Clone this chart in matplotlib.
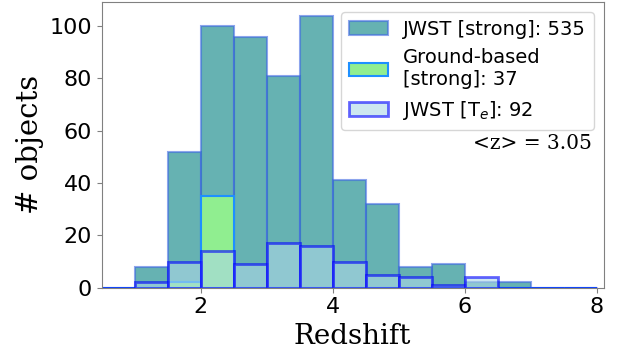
import numpy as np
import matplotlib
matplotlib.use("Agg")
import matplotlib.pyplot as plt

# Bin edges (redshift) and counts per bin
bin_edges = np.arange(0.5, 8.01, 0.5)
jwst_strong = [0, 8, 52, 100, 96, 81, 104, 41, 32, 8, 9, 2, 2, 0, 0]
ground_strong = [0, 0, 2, 35, 0, 0, 0, 0, 0, 0, 0, 0, 0, 0, 0]
jwst_te = [0, 2, 10, 14, 9, 17, 16, 10, 5, 4, 1, 4, 0, 0, 0]
mean_z = 3.05

centers = 0.5 * (bin_edges[:-1] + bin_edges[1:])

fig = plt.figure(figsize=(6.22, 3.51), dpi=100)
ax = fig.add_axes([0.1635, 0.1803, 0.807, 0.814])

ax.hist(centers, bins=bin_edges, weights=jwst_strong, facecolor="teal",
        edgecolor="royalblue", alpha=0.6, linewidth=1.5,
        label=f"JWST [strong]: {sum(jwst_strong)}")
ax.hist(centers, bins=bin_edges, weights=ground_strong, facecolor="lightgreen",
        edgecolor="dodgerblue", alpha=1.0, linewidth=1.5,
        label=f"Ground-based\n[strong]: {sum(ground_strong)}")
ax.hist(centers, bins=bin_edges, weights=jwst_te, facecolor="lightblue",
        edgecolor="blue", alpha=0.6, linewidth=2,
        label=f"JWST [T$_e$]: {sum(jwst_te)}")

ax.set_xlim(0.5, 8.1)
ax.set_ylim(0, 109.2)
ax.set_xticks([2, 4, 6, 8])
ax.set_yticks([0, 20, 40, 60, 80, 100])
ax.tick_params(labelsize=16, color="gray")
for s in ax.spines.values():
    s.set_color("gray")

ax.set_xlabel("Redshift", fontsize=20, family="DejaVu Serif")
ax.set_ylabel("# objects", fontsize=21, family="DejaVu Serif")

ax.legend(loc="upper right", fontsize=14, handlelength=2.0)
ax.text(0.977, 0.506, f"<z> = {mean_z:.2f}", transform=ax.transAxes,
        ha="right", va="center", fontsize=14.5, family="DejaVu Serif")

fig.savefig("out.png", dpi=100)
